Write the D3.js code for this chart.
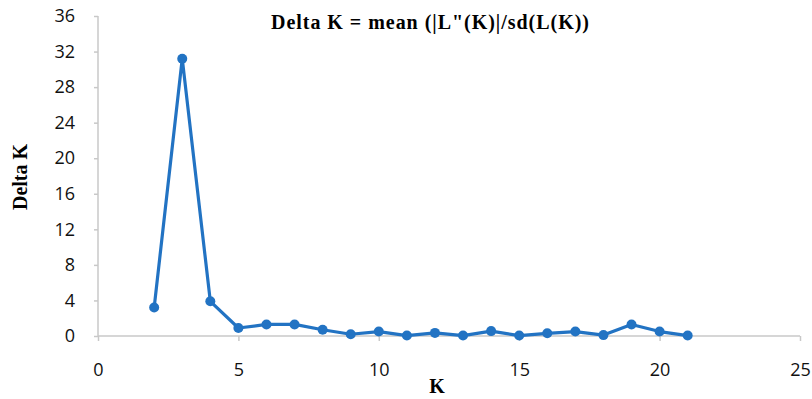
<html>
<head>
<script src="https://cdnjs.cloudflare.com/ajax/libs/d3/7.8.5/d3.min.js"></script>
<style>
body { margin: 0; background: white; }
#canvas { background-color: white; }
</style>
</head>
<body>
<svg id="canvas" width="812" height="399"></svg>
<script>
// values
var kValues = [2, 3, 4, 5, 6, 7, 8, 9, 10, 11, 12, 13, 14, 15, 16, 17, 18, 19, 20, 21];
var deltaK = [3.2, 31.2, 3.9, 0.9, 1.3, 1.3, 0.7, 0.2, 0.5, 0.05, 0.35, 0.05, 0.55, 0.05, 0.3, 0.5, 0.1, 1.3, 0.5, 0.05];
var xTicks = [0, 5, 10, 15, 20, 25];
var yTicks = [0, 4, 8, 12, 16, 20, 24, 28, 32, 36];

var svg = d3.select("#canvas");
var blue = "#2273c3";
var axisGray = "#c8c8c8";
var labelFont = "'Open Sans', 'Liberation Sans', sans-serif";
var serifFont = "'Liberation Serif', 'DejaVu Serif', serif";

var x = d3.scaleLinear().domain([0, 25]).range([98, 800]);
var y = d3.scaleLinear().domain([0, 36]).range([336, 16]);

// y axis
var yAxis = svg.append("g").attr("transform", "translate(" + x(0) + ",0)")
    .call(d3.axisLeft(y).tickValues(yTicks).tickSize(4).tickPadding(19));
// x axis
var xAxis = svg.append("g").attr("transform", "translate(0," + y(0) + ")")
    .call(d3.axisBottom(x).tickValues(xTicks).tickSize(5).tickPadding(22));

[yAxis, xAxis].forEach(function(a) {
  a.select(".domain").attr("stroke", axisGray).attr("stroke-width", 1.5);
  a.selectAll(".tick line").attr("stroke", axisGray).attr("stroke-width", 1.5);
  a.selectAll(".tick text").attr("fill", "#111").style("font-family", labelFont).style("font-size", "18px");
});
yAxis.select(".domain").attr("d", "M0," + y(36) + "V" + y(0));
xAxis.select(".domain").attr("d", "M" + x(0) + ",0H" + x(25));

// line
var line = d3.line().x(function(d, i) { return x(kValues[i]); }).y(function(d) { return y(d); });
svg.append("path").datum(deltaK)
  .attr("d", line)
  .attr("fill", "none")
  .attr("stroke", blue)
  .attr("stroke-width", 3.2)
  .attr("stroke-linejoin", "round");

svg.selectAll("circle.pt").data(deltaK).enter().append("circle")
  .classed("pt", true)
  .attr("cx", function(d, i) { return x(kValues[i]); })
  .attr("cy", function(d) { return y(d); })
  .attr("r", 5)
  .attr("fill", blue);

// titles
svg.append("text")
  .attr("x", 430).attr("y", 29)
  .attr("text-anchor", "middle")
  .style("font-family", serifFont).style("font-weight", "bold").style("font-size", "20px")
  .attr("textLength", 318)
  .text("Delta K = mean (|L\"(K)|/sd(L(K))");

svg.append("text")
  .attr("x", 437).attr("y", 393)
  .attr("text-anchor", "middle")
  .style("font-family", serifFont).style("font-weight", "bold").style("font-size", "20px")
  .text("K");

svg.append("text")
  .attr("transform", "translate(27,177) rotate(-90)")
  .attr("text-anchor", "middle")
  .style("font-family", serifFont).style("font-weight", "bold").style("font-size", "20px")
  .text("Delta K");
</script>
</body>
</html>
